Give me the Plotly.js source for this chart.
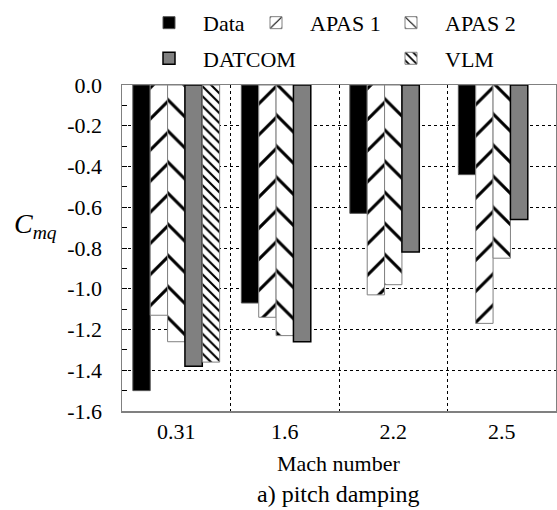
<!DOCTYPE html>
<html>
<head>
<meta charset="utf-8">
<script src="https://cdn.plot.ly/plotly-3.0.1.min.js"></script>
<style>html,body{margin:0;padding:0;background:#fff;}#chart{width:557px;height:510px;}</style>
</head>
<body>
<div id="chart"></div>
<script>
const machCategories = ["0.31", "1.6", "2.2", "2.5"];
const dataValues   = [-1.50, -1.07, -0.63, -0.44];
const apas1Values  = [-1.13, -1.14, -1.03, -1.17];
const apas2Values  = [-1.26, -1.23, -0.98, -0.85];
const datcomValues = [-1.38, -1.26, -0.82, -0.66];
const vlmValues    = [-1.36, null, null, null];
const yTickVals = [0, -0.2, -0.4, -0.6, -0.8, -1.0, -1.2, -1.4, -1.6];
const yTickText = ["0.0", "-0.2", "-0.4", "-0.6", "-0.8", "-1.0", "-1.2", "-1.4", "-1.6"];

const FONT = "'Liberation Serif', 'Times New Roman', Tinos, 'DejaVu Serif', serif";

const traces = [
  {type:'bar', name:'Data', x:machCategories, y:dataValues, legend:'legend', legendgroup:'g1',
   marker:{color:'#000000', line:{color:'#555555', width:1}}},
  {type:'bar', name:'APAS 1', x:machCategories, y:apas1Values, legend:'legend2', legendgroup:'g2',
   marker:{color:'#ffffff', line:{color:'#808080', width:1},
     pattern:{shape:'/', size:22, solidity:0.14, fgcolor:'#000000', bgcolor:'#ffffff'}}},
  {type:'bar', name:'APAS 2', x:machCategories, y:apas2Values, legend:'legend3', legendgroup:'g3',
   marker:{color:'#ffffff', line:{color:'#808080', width:1},
     pattern:{shape:'\\', size:22, solidity:0.14, fgcolor:'#000000', bgcolor:'#ffffff'}}},
  {type:'bar', name:'DATCOM', x:machCategories, y:datcomValues, legend:'legend', legendgroup:'g4',
   marker:{color:'#808080', line:{color:'#000000', width:1.5}}},
  {type:'bar', name:'VLM', x:machCategories, y:vlmValues, legend:'legend3', legendgroup:'g5',
   marker:{color:'#ffffff', line:{color:'#808080', width:1},
     pattern:{shape:'\\', size:7, solidity:0.3, fgcolor:'#000000', bgcolor:'#ffffff'}}}
];

const legendCommon = {
  orientation:'v', yanchor:'top', xanchor:'left', y:1.255,
  bgcolor:'rgba(0,0,0,0)', borderwidth:0, itemwidth:58, tracegroupgap:4,
  traceorder:'grouped', font:{family:FONT, size:22, color:'#000'}
};

const layout = {
  width:557, height:510,
  margin:{l:122, r:1, t:85, b:99},
  paper_bgcolor:'#ffffff', plot_bgcolor:'#ffffff',
  font:{family:FONT, size:22, color:'#000'},
  barmode:'group', bargap:0.2, bargroupgap:0,
  showlegend:true,
  legend:Object.assign({}, legendCommon, {x:(135-122)/434}),
  legend2:Object.assign({}, legendCommon, {x:(242-122)/434}),
  legend3:Object.assign({}, legendCommon, {x:(377-122)/434}),
  xaxis:{type:'category', tickson:'boundaries', ticks:'', showgrid:true,
    gridcolor:'#000000', griddash:'3px,3px', gridwidth:1,
    showline:true, linecolor:'#808080', linewidth:1.5, mirror:true,
    tickfont:{family:FONT, size:22, color:'#000'}, zeroline:false},
  yaxis:{range:[-1.6, 0], tickvals:yTickVals, ticktext:yTickText, ticks:'inside', ticklen:5,
    tickcolor:'#000', showgrid:true, gridcolor:'#000000', griddash:'3px,3px', gridwidth:1,
    minor:{dtick:0.1, ticks:'inside', ticklen:5, tickcolor:'#000', showgrid:false},
    showline:true, linecolor:'#808080', linewidth:1.5, mirror:true, zeroline:false,
    ticklabelstandoff:14, tickfont:{family:FONT, size:22, color:'#000'}},
  annotations:[
    {text:'<i>C<sub>mq</sub></i>', xref:'paper', yref:'paper', x:(35-122)/434, y:(410-225)/326,
     xanchor:'center', yanchor:'middle', showarrow:false, font:{family:FONT, size:28, color:'#000'}},
    {text:'Mach number', xref:'paper', yref:'paper', x:(338-122)/434, y:0, yanchor:'middle',
     xanchor:'center', yshift:-(462-410), showarrow:false, font:{family:FONT, size:22, color:'#000'}},
    {text:'a) pitch damping', xref:'paper', yref:'paper', x:(338-122)/434, y:0, yanchor:'middle',
     xanchor:'center', yshift:-(493-410), showarrow:false, font:{family:FONT, size:24, color:'#000'}}
  ]
};

Plotly.newPlot('chart', traces, layout, {staticPlot:true, displayModeBar:false});
</script>
</body>
</html>
